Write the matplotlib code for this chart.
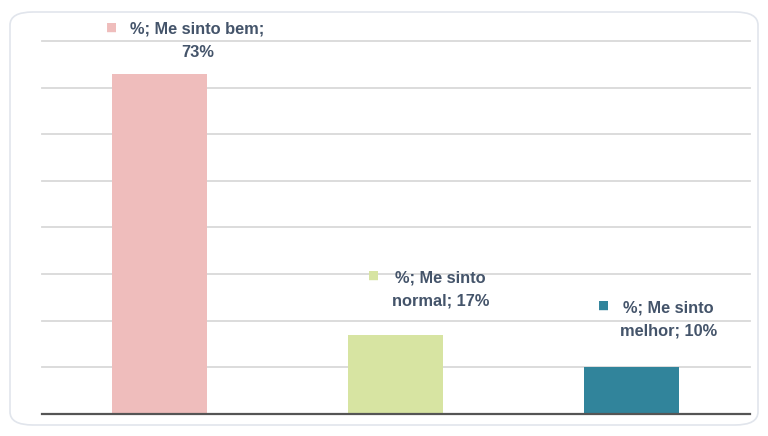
import matplotlib.pyplot as plt
from matplotlib.patches import FancyBboxPatch

# dados do gráfico
categories = ['Me sinto bem', 'Me sinto normal', 'Me sinto melhor']
values = [73, 17, 10]
label_text = ['%; Me sinto bem;\n73%', '%; Me sinto\nnormal; 17%', '%; Me sinto\nmelhor; 10%']
colors = ['#efbdbc', '#d7e4a2', '#31849b']

# deslocamentos dos rótulos (pixels) em relação ao topo da barra
text_dx = [38, 45, 37]
text_dy = [33, 45, 48]
mark_dx = [-48, -22, -28]
mark_dy = [46, 59, 62]

TXT = '#44546a'

fig = plt.figure(figsize=(7.68, 4.36), dpi=100)
fig.patch.set_facecolor('white')

frame = FancyBboxPatch((10 / 768, 1 - 425 / 436), 748 / 768, 413 / 436,
                       boxstyle='round,pad=0,rounding_size=0.03',
                       transform=fig.transFigure, facecolor='none',
                       edgecolor='#e1e5ec', linewidth=1.2, zorder=-1)
fig.patches.append(frame)

ax = fig.add_axes([41.5 / 768, 22 / 436, 708 / 768, 373 / 436])
ax.set_facecolor('none')
x = range(len(categories))
ax.bar(x, [v / 100 for v in values], width=0.4, color=colors, zorder=3)
ax.set_xlim(-0.5, 2.5)
ax.set_ylim(0, 0.8)

for g in [0.1, 0.2, 0.3, 0.4, 0.5, 0.6, 0.7, 0.8]:
    ax.axhline(g, color='#d9d9d9', linewidth=1.3, zorder=1, clip_on=False)
ax.axhline(0, color='#555555', linewidth=1.6, zorder=4, clip_on=False)

for s in ax.spines.values():
    s.set_visible(False)
ax.set_xticks([])
ax.set_yticks([])

for i, v in enumerate(values):
    ax.annotate(label_text[i], (i, v / 100), xytext=(text_dx[i], text_dy[i]),
                textcoords='offset pixels', ha='center', va='center',
                multialignment='center', fontsize=11.8, fontweight='bold',
                color=TXT, family='Liberation Sans', linespacing=1.65, zorder=5)
    ax.annotate('■', (i, v / 100), xytext=(mark_dx[i], mark_dy[i]),
                textcoords='offset pixels', ha='center', va='center',
                fontsize=8.5, color=colors[i], family='DejaVu Sans', zorder=5)

fig.savefig('out.png', dpi=100)
